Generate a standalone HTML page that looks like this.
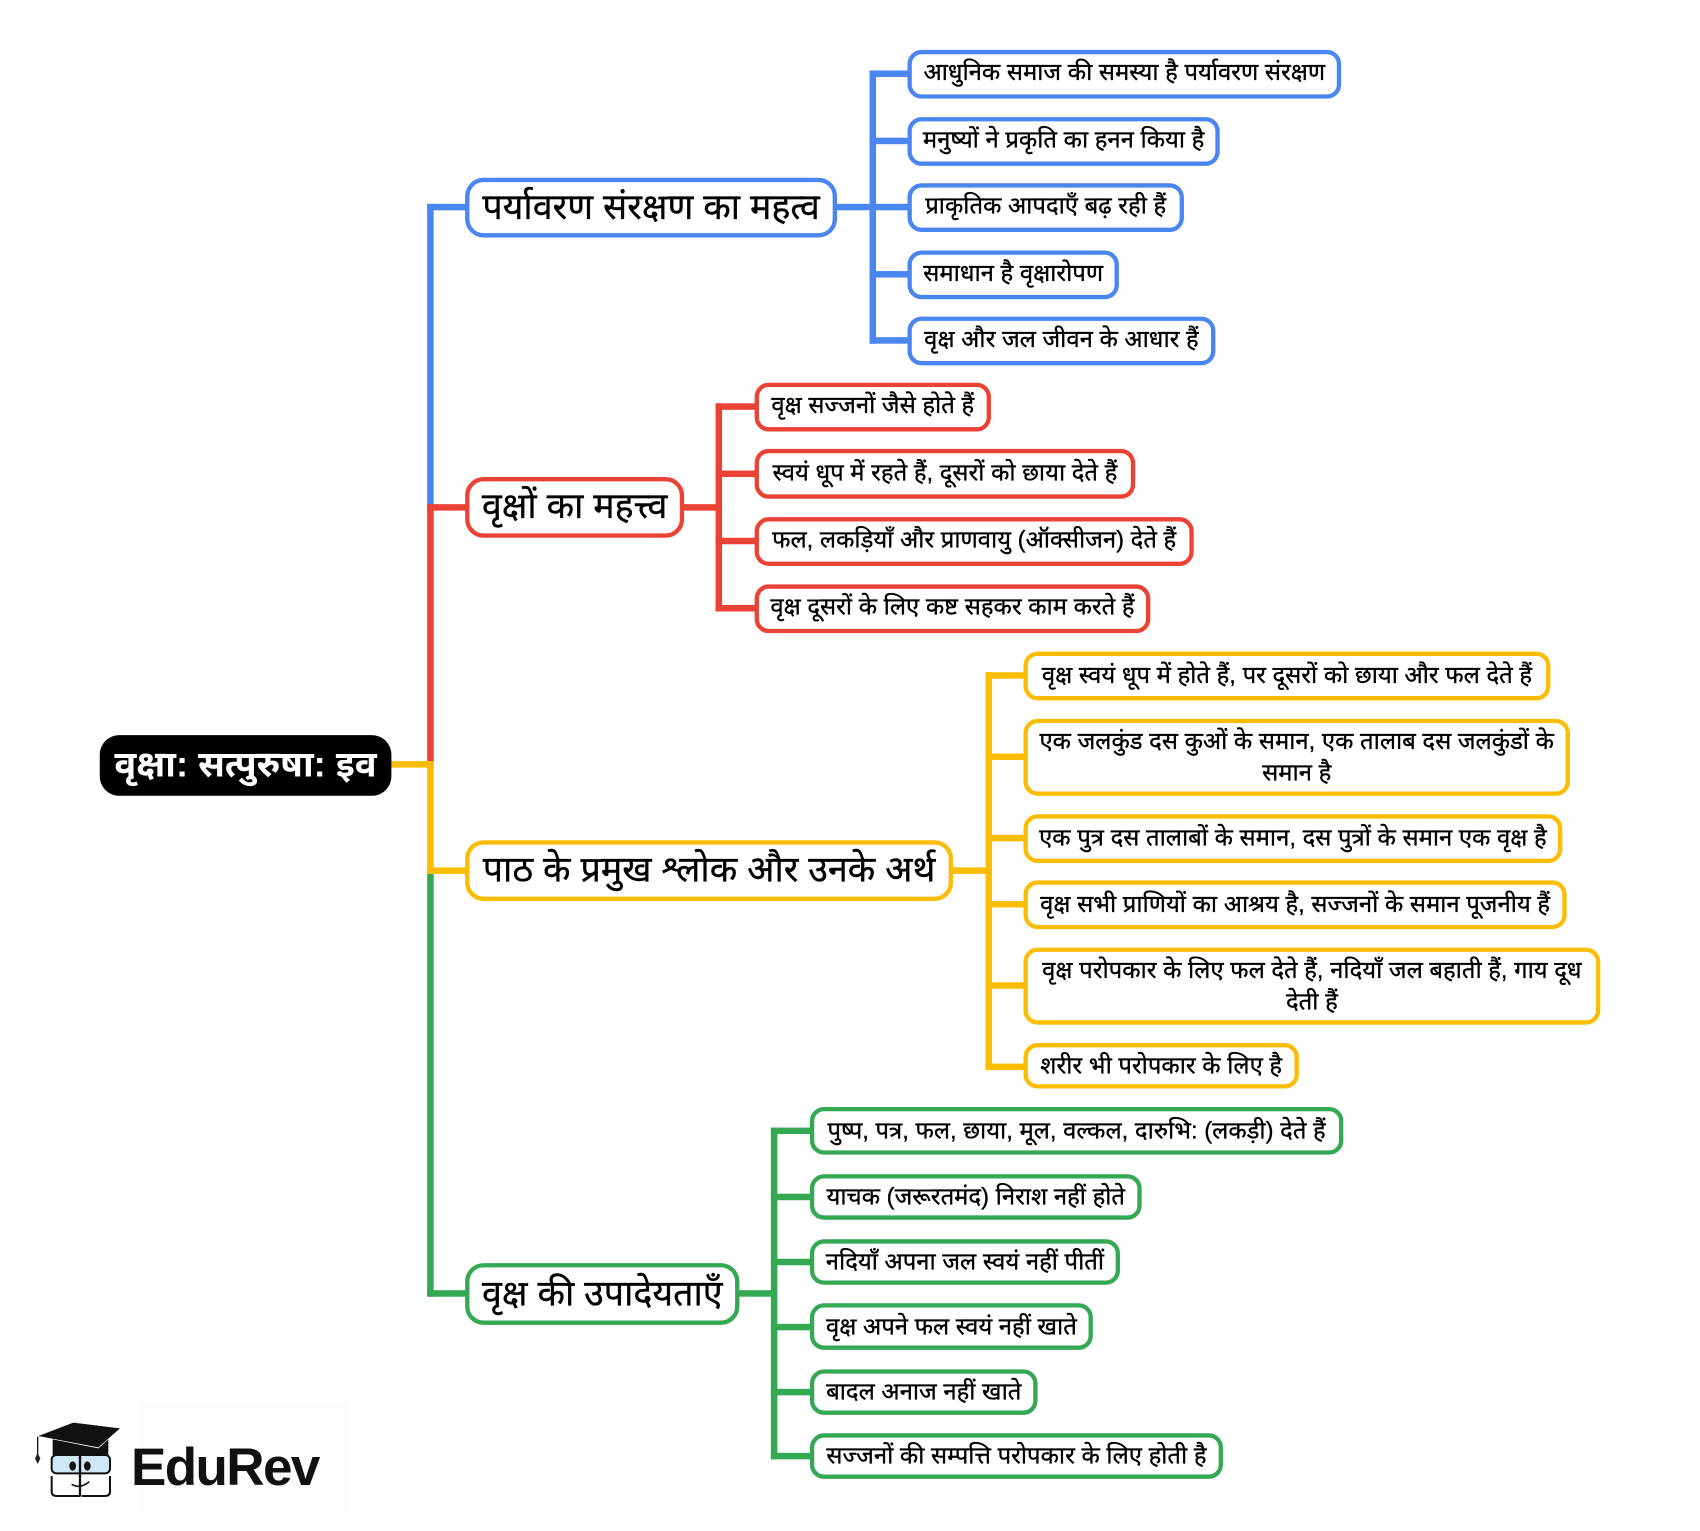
<!DOCTYPE html>
<html lang="hi"><head><meta charset="utf-8"><style>
html,body{margin:0;padding:0;background:#fff}
#p{position:relative;width:1700px;height:1531px;overflow:hidden;background:#fff}
#m{position:absolute;left:0;top:0;width:1568px;height:1412px;transform:scale(1.0842);transform-origin:0 0;font-family:"Liberation Sans","Noto Sans Devanagari","Lohit Devanagari","Noto Sans CJK SC",sans-serif;color:#000}
.n{position:absolute;box-sizing:border-box;border:4.4px solid;border-radius:13px;background:#fff;display:flex;align-items:center;justify-content:center;text-align:center;font-size:22px;line-height:29px;white-space:nowrap;padding-bottom:3px;-webkit-text-stroke:0.3px #000}
.n.rd{padding-bottom:4px}
.n.b{padding-bottom:3.5px}
.n.y{padding-bottom:2px}
.n.g{padding-bottom:1px}
.n.l1{font-size:33px;border-radius:17px;padding-bottom:3px}
.r{position:absolute;background:#000;color:#fff;border-radius:18px;display:flex;align-items:center;justify-content:center;font-size:33.5px;font-weight:bold;white-space:nowrap;box-sizing:border-box;padding-top:3px}
.b{border-color:#4a86f0}.rd{border-color:#ea4335}.y{border-color:#fbbc04}.g{border-color:#34a853}
.k{position:absolute}
.kb{background:#4a86f0}.kr{background:#ea4335}.ky{background:#fbbc04}.kg{background:#34a853}
</style></head><body><div id="p"><div id="m">
<!-- main trunk -->
<div class="k kb" style="left:394px;top:188px;width:36px;height:6px"></div>
<div class="k kb" style="left:394px;top:188px;width:6px;height:280px"></div>
<div class="k kg" style="left:394px;top:803px;width:6px;height:393px"></div>
<div class="k kg" style="left:394px;top:1190px;width:36px;height:6px"></div>
<div class="k kr" style="left:394px;top:465px;width:6px;height:240px"></div>
<div class="k kr" style="left:394px;top:465px;width:36px;height:6px"></div>
<div class="k ky" style="left:361px;top:702px;width:39px;height:6px"></div>
<div class="k ky" style="left:394px;top:702px;width:6px;height:104px"></div>
<div class="k ky" style="left:394px;top:800px;width:36px;height:6px"></div>
<!-- blue -->
<div class="k kb" style="left:771px;top:188px;width:34px;height:6px"></div>
<div class="k kb" style="left:802px;top:65px;width:6px;height:252px"></div>
<div class="k kb" style="left:802px;top:65px;width:36px;height:6px"></div>
<div class="k kb" style="left:802px;top:127px;width:36px;height:6px"></div>
<div class="k kb" style="left:802px;top:188px;width:36px;height:6px"></div>
<div class="k kb" style="left:802px;top:250px;width:36px;height:6px"></div>
<div class="k kb" style="left:802px;top:311px;width:36px;height:6px"></div>
<!-- red -->
<div class="k kr" style="left:630px;top:465px;width:33px;height:6px"></div>
<div class="k kr" style="left:660px;top:372px;width:6px;height:192px"></div>
<div class="k kr" style="left:660px;top:372px;width:37px;height:6px"></div>
<div class="k kr" style="left:660px;top:434px;width:37px;height:6px"></div>
<div class="k kr" style="left:660px;top:496px;width:37px;height:6px"></div>
<div class="k kr" style="left:660px;top:558px;width:37px;height:6px"></div>
<!-- yellow -->
<div class="k ky" style="left:878px;top:800px;width:34px;height:6px"></div>
<div class="k ky" style="left:909px;top:620px;width:6px;height:367px"></div>
<div class="k ky" style="left:909px;top:620px;width:36px;height:6px"></div>
<div class="k ky" style="left:909px;top:695px;width:36px;height:6px"></div>
<div class="k ky" style="left:909px;top:770px;width:36px;height:6px"></div>
<div class="k ky" style="left:909px;top:831px;width:36px;height:6px"></div>
<div class="k ky" style="left:909px;top:906px;width:36px;height:6px"></div>
<div class="k ky" style="left:909px;top:981px;width:36px;height:6px"></div>
<!-- green -->
<div class="k kg" style="left:681px;top:1190px;width:33px;height:6px"></div>
<div class="k kg" style="left:711px;top:1040px;width:6px;height:306px"></div>
<div class="k kg" style="left:711px;top:1040px;width:37px;height:6px"></div>
<div class="k kg" style="left:711px;top:1101px;width:37px;height:6px"></div>
<div class="k kg" style="left:711px;top:1161px;width:37px;height:6px"></div>
<div class="k kg" style="left:711px;top:1221px;width:37px;height:6px"></div>
<div class="k kg" style="left:711px;top:1281px;width:37px;height:6px"></div>
<div class="k kg" style="left:711px;top:1340px;width:37px;height:6px"></div>

<div class="r" style="left:92px;top:678px;width:269px;height:56px">वृक्षा: सत्पुरुषा: इव</div>

<div class="n l1 b" style="left:429px;top:164px;width:343px;height:55px">पर्यावरण संरक्षण का महत्व</div>
<div class="n l1 rd" style="left:429px;top:440px;width:202px;height:56px">वृक्षों का महत्त्व</div>
<div class="n l1 y" style="left:429px;top:775px;width:450px;height:56px">पाठ के प्रमुख श्लोक और उनके अर्थ</div>
<div class="n l1 g" style="left:429px;top:1165px;width:253px;height:57px">वृक्ष की उपादेयताएँ</div>

<div class="n b" style="left:837px;top:46px;width:400px;height:45px">आधुनिक समाज की समस्या है पर्यावरण संरक्षण</div>
<div class="n b" style="left:837px;top:108px;width:288px;height:45px">मनुष्यों ने प्रकृति का हनन किया है</div>
<div class="n b" style="left:837px;top:169px;width:255px;height:45px">प्राकृतिक आपदाएँ बढ़ रही हैं</div>
<div class="n b" style="left:837px;top:231px;width:195px;height:45px">समाधान है वृक्षारोपण</div>
<div class="n b" style="left:837px;top:292px;width:284px;height:45px">वृक्ष और जल जीवन के आधार हैं</div>

<div class="n rd" style="left:696px;top:353px;width:218px;height:45px">वृक्ष सज्जनों जैसे होते हैं</div>
<div class="n rd" style="left:696px;top:414px;width:351px;height:46px">स्वयं धूप में रहते हैं, दूसरों को छाया देते हैं</div>
<div class="n rd" style="left:696px;top:477px;width:405px;height:45px">फल, लकड़ियाँ और प्राणवायु (ऑक्सीजन) देते हैं</div>
<div class="n rd" style="left:696px;top:539px;width:365px;height:45px">वृक्ष दूसरों के लिए कष्ट सहकर काम करते हैं</div>

<div class="n y" style="left:944px;top:601px;width:486px;height:45px">वृक्ष स्वयं धूप में होते हैं, पर दूसरों को छाया और फल देते हैं</div>
<div class="n y" style="left:944px;top:663px;width:504px;height:71px">एक जलकुंड दस कुओं के समान, एक तालाब दस जलकुंडों के<br>समान है</div>
<div class="n y" style="left:944px;top:751px;width:497px;height:45px">एक पुत्र दस तालाबों के समान, दस पुत्रों के समान एक वृक्ष है</div>
<div class="n y" style="left:944px;top:812px;width:501px;height:45px">वृक्ष सभी प्राणियों का आश्रय है, सज्जनों के समान पूजनीय हैं</div>
<div class="n y" style="left:944px;top:874px;width:532px;height:71px">वृक्ष परोपकार के लिए फल देते हैं, नदियाँ जल बहाती हैं, गाय दूध<br>देती हैं</div>
<div class="n y" style="left:944px;top:962px;width:254px;height:42px">शरीर भी परोपकार के लिए है</div>

<div class="n g" style="left:747px;top:1021px;width:492px;height:44px">पुष्प, पत्र, फल, छाया, मूल, वल्कल, दारुभि: (लकड़ी) देते हैं</div>
<div class="n g" style="left:747px;top:1083px;width:306px;height:42px">याचक (जरूरतमंद) निराश नहीं होते</div>
<div class="n g" style="left:747px;top:1143px;width:286px;height:42px">नदियाँ अपना जल स्वयं नहीं पीतीं</div>
<div class="n g" style="left:747px;top:1202px;width:261px;height:43px">वृक्ष अपने फल स्वयं नहीं खाते</div>
<div class="n g" style="left:747px;top:1263px;width:210px;height:42px">बादल अनाज नहीं खाते</div>
<div class="n g" style="left:747px;top:1322px;width:381px;height:42px">सज्जनों की सम्पत्ति परोपकार के लिए होती है</div>
</div>

<!-- logo -->
<div class="k" style="left:140px;top:1402px;width:208px;height:114px;background:#fdfdfd"></div>
<svg class="k" style="left:0;top:1400px" width="400" height="131" viewBox="0 0 1200 393">
<polygon points="115,108 220,68 360,85 295,142" fill="#111"/>
<path d="M158 155 V118 L295 145 L325 118 V165 H158Z" fill="#111"/>
<path d="M113 110 V165" stroke="#111" stroke-width="4" fill="none"/>
<polygon points="113,158 121,176 113,192 105,176" fill="#222"/>
<rect x="155" y="165" width="175" height="55" rx="14" fill="#cfe6f5" stroke="#111" stroke-width="6"/>
<path d="M155 228 V275 Q155 288 170 288 H240 M330 228 V275 Q330 288 315 288 H245" fill="none" stroke="#111" stroke-width="6"/>
<path d="M240 160 V290" stroke="#111" stroke-width="7"/>
<ellipse cx="218" cy="198" rx="10" ry="14" fill="#111"/>
<ellipse cx="262" cy="198" rx="10" ry="14" fill="#111"/>
<path d="M215 253 Q240 268 268 245" fill="none" stroke="#111" stroke-width="5"/>
</svg>
<div class="k" style="left:131px;top:1438px;font:bold 53px/60px 'Liberation Sans',sans-serif;letter-spacing:-1.6px;color:#111;white-space:nowrap">EduRev</div>
</div></body></html>
